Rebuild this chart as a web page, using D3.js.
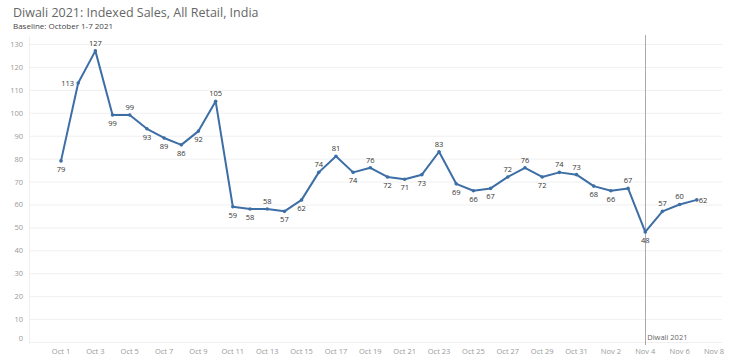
<!DOCTYPE html>
<html><head><meta charset="utf-8">
<script src="https://cdn.jsdelivr.net/npm/d3@7"></script>
<style>
body{margin:0;background:#fff;}
svg{display:block;font-family:"Open Sans","DejaVu Sans",sans-serif;}
</style></head>
<body><svg id="c" width="739" height="364"></svg>
<script>
const title = "Diwali 2021: Indexed Sales, All Retail, India";
const subtitle = "Baseline: October 1-7 2021";
const dates = ["Oct 1","Oct 2","Oct 3","Oct 4","Oct 5","Oct 6","Oct 7","Oct 8","Oct 9","Oct 10",
"Oct 11","Oct 12","Oct 13","Oct 14","Oct 15","Oct 16","Oct 17","Oct 18","Oct 19","Oct 20",
"Oct 21","Oct 22","Oct 23","Oct 24","Oct 25","Oct 26","Oct 27","Oct 28","Oct 29","Oct 30",
"Oct 31","Nov 1","Nov 2","Nov 3","Nov 4","Nov 5","Nov 6","Nov 7"];
const values = [79,113,127,99,99,93,89,86,92,105,59,58,58,57,62,74,81,74,76,72,71,73,83,69,66,67,72,76,72,74,73,68,66,67,48,57,60,62];
const xTickLabels = ["Oct 1","Oct 3","Oct 5","Oct 7","Oct 9","Oct 11","Oct 13","Oct 15","Oct 17","Oct 19","Oct 21","Oct 23","Oct 25","Oct 27","Oct 29","Oct 31","Nov 2","Nov 4","Nov 6","Nov 8"];
const yTicks = [0,10,20,30,40,50,60,70,80,90,100,110,120,130];
const eventLabel = "Diwali 2021";
const eventIndex = 34; // Nov 4
// label placement: a=above, b=below, l=left, r=right
const labelPlace = ["b","l","a","b","a","b","b","b","b","a","b","b","a","b","b","a","a","b","a","b","b","b","a","b","b","b","a","a","b","a","a","b","b","a","b","a","a","r"];

const svg = d3.select("#c");
const x = d3.scaleLinear().domain([0,38]).range([61,714]);
const y = d3.scaleLinear().domain([0,130]).range([342,44]);

svg.append("text").attr("x",13).attr("y",17).attr("font-size",12.5).attr("fill","#666").text(title);
svg.append("text").attr("x",13).attr("y",29).attr("font-size",8).attr("fill","#444").text(subtitle);

// gridlines
svg.append("g").selectAll("line").data(yTicks).join("line")
  .attr("x1",29).attr("x2",722).attr("y1",d=>y(d)+0.5).attr("y2",d=>y(d)+0.5)
  .attr("stroke","#f0f0f0").attr("stroke-width",1);
svg.append("line").attr("x1",29.5).attr("x2",29.5).attr("y1",36).attr("y2",344).attr("stroke","#f0f0f0");

// y labels
svg.append("g").selectAll("text").data(yTicks).join("text")
  .attr("x",23).attr("y",d=> d===0 ? y(d)-1 : y(d)+3)
  .attr("text-anchor","end").attr("font-size",7.5).attr("fill","#999").text(d=>d);

// x labels
svg.append("g").selectAll("text").data(xTickLabels).join("text")
  .attr("x",(d,i)=>x(i*2)).attr("y",354).attr("text-anchor","middle")
  .attr("font-size",7.5).attr("fill","#999").text(d=>d);

// event line
svg.append("line").attr("x1",Math.round(x(eventIndex))+0.5).attr("x2",Math.round(x(eventIndex))+0.5)
  .attr("y1",35).attr("y2",345).attr("stroke","#aaa").attr("stroke-width",1);
svg.append("text").attr("x",x(eventIndex)+2).attr("y",340).attr("font-size",7.5).attr("fill","#666").text(eventLabel);

// line
const line = d3.line().x((d,i)=>x(i)).y(d=>y(d));
svg.append("path").datum(values).attr("d",line).attr("fill","none")
  .attr("stroke","#3d6ea5").attr("stroke-width",2).attr("stroke-linejoin","round");
svg.append("g").selectAll("circle").data(values).join("circle")
  .attr("cx",(d,i)=>x(i)).attr("cy",d=>y(d)).attr("r",1.8).attr("fill","#3d6ea5");

// value labels
svg.append("g").selectAll("text").data(values).join("text")
  .attr("font-size",7.5).attr("fill","#333")
  .attr("x",(d,i)=> labelPlace[i]==="l" ? x(i)-4 : labelPlace[i]==="r" ? x(i)+2 : x(i))
  .attr("y",(d,i)=> labelPlace[i]==="a" ? y(d)-5 : labelPlace[i]==="b" ? y(d)+11 : y(d)+3)
  .attr("text-anchor",(d,i)=> labelPlace[i]==="l" ? "end" : labelPlace[i]==="r" ? "start" : "middle")
  .text(d=>d);
</script></body></html>
